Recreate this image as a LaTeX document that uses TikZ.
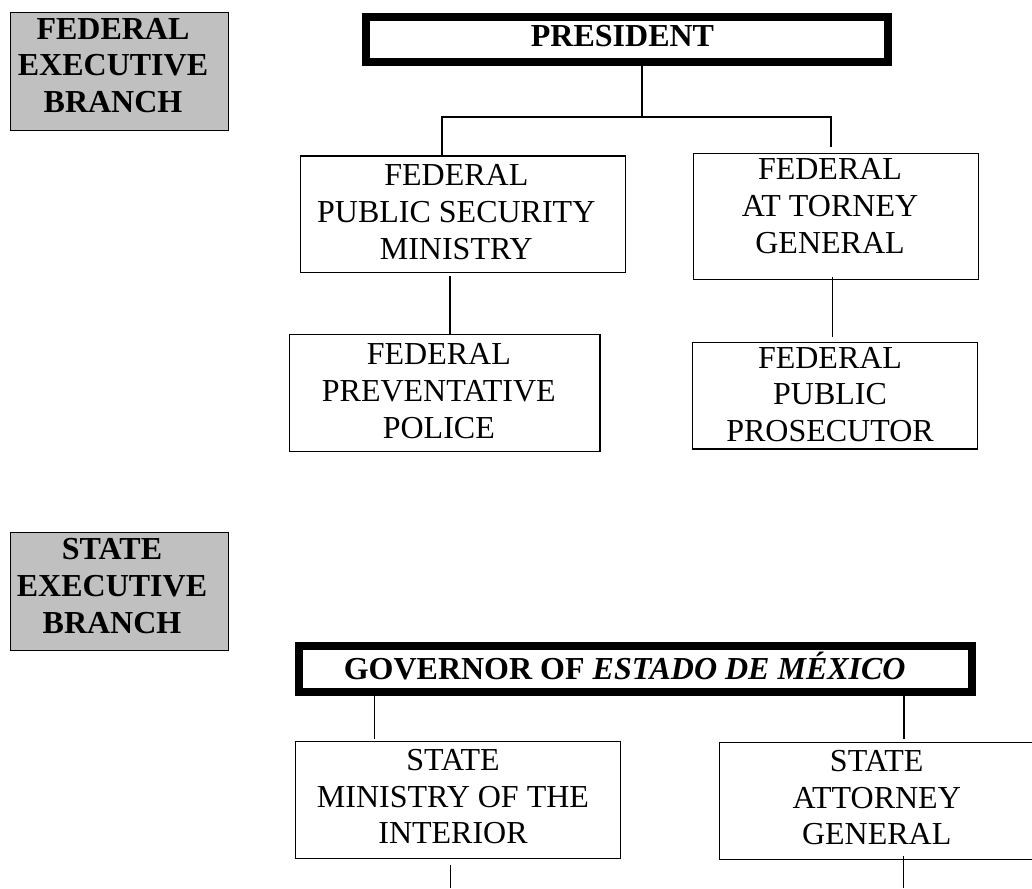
\documentclass[tikz,border=0pt]{standalone}
\usepackage{fontspec}
\setmainfont{Liberation Serif}
\definecolor{branchgray}{HTML}{C0C0C0}
\tikzset{
  thinbox/.style={draw=black, line width=1.1pt, inner sep=0pt},
  branchbox/.style={thinbox, fill=branchgray},
  headbox/.style={draw=black, line width=7.5pt, inner sep=0pt},
  txt/.style={align=center, inner sep=0pt, font=\fontsize{32}{36.6}\selectfont},
  btxt/.style={txt, font=\fontsize{32}{36.6}\selectfont\bfseries},
  conn/.style={draw=black, line width=1.1pt}
}
\begin{document}
\begin{tikzpicture}[x=1pt,y=-1pt]
\clip (0,0) rectangle (1032,888);
\fill[white] (0,0) rectangle (1032,888);

% branch labels
\node[branchbox, minimum width=218pt, minimum height=118pt] (fed) at (119.5,71.5) {};
\node[btxt] (fedT) at (113,65.4) {FEDERAL\\EXECUTIVE\\BRANCH};
\node[branchbox, minimum width=218pt, minimum height=118pt] (sta) at (119.5,591.7) {};
\node[btxt] (staT) at (112,586) {STATE\\EXECUTIVE\\BRANCH};

% federal
\node[headbox, minimum width=522pt, minimum height=45pt] (pres) at (627,39.5) {};
\node[btxt] (presT) at (622.5,36.1) {PRESIDENT};

\node[thinbox, minimum width=325pt, minimum height=116.7pt] (fpsm) at (463.2,214.3) {};
\node[txt] (fpsmT) at (456.3,212.1) {FEDERAL\\PUBLIC SECURITY\\MINISTRY};

\node[thinbox, minimum width=284.6pt, minimum height=126pt] (fag) at (836,216.3) {};
\node[txt] (fagT) at (830,206.1) {FEDERAL\\AT TORNEY\\GENERAL};

\node[thinbox, minimum width=310.3pt, minimum height=117.4pt] (fpp) at (444.8,393) {};
\node[txt] (fppT) at (438.8,391.1) {FEDERAL\\PREVENTATIVE\\POLICE};

\node[thinbox, minimum width=285pt, minimum height=106.7pt] (fpr) at (835.2,395.6) {};
\node[txt] (fprT) at (830,394.4) {FEDERAL\\PUBLIC\\PROSECUTOR};

% state
\node[headbox, minimum width=673pt, minimum height=46pt] (gov) at (635.5,669.2) {};
\node[btxt] (govT) at (624.7,666.1) {GOVERNOR OF \textit{ESTADO DE MÉXICO}};

\node[thinbox, minimum width=325pt, minimum height=116.6pt] (smi) at (458.2,800) {};
\node[txt] (smiT) at (453,796.7) {STATE\\MINISTRY OF THE\\INTERIOR};

\node[thinbox, minimum width=320.7pt, minimum height=116.7pt] (sag) at (879.7,800.7) {};
\node[txt] (sagT) at (876.7,797.7) {STATE\\ATTORNEY\\GENERAL};

% connector points
\coordinate (pj) at (642,117);
\coordinate (jl) at (442,117);
\coordinate (jr) at (831,117);
\coordinate (jre) at (831,147);
\coordinate (smiEnd) at (450.7,888);
\coordinate (sagEnd) at (903.3,888);

% federal connectors
\draw[conn] (pj |- pres.south) -- (pj);
\draw[conn] (jl |- fpsm.north) -- (jl) -- (jr) -- (jre);
\draw[conn] (450,276) -- (450,0 |- fpp.north);
\draw[conn] (832.3,277) -- (832.3,336.7);

% state connectors
\draw[conn] (374.3,0 |- gov.south) -- (374.3,739.3);
\draw[conn] (904,0 |- gov.south) -- (904,739.3);
\draw[conn] (450.7,865) -- (smiEnd);
\draw[conn] (903.3,856) -- (sagEnd);
\end{tikzpicture}
\end{document}
